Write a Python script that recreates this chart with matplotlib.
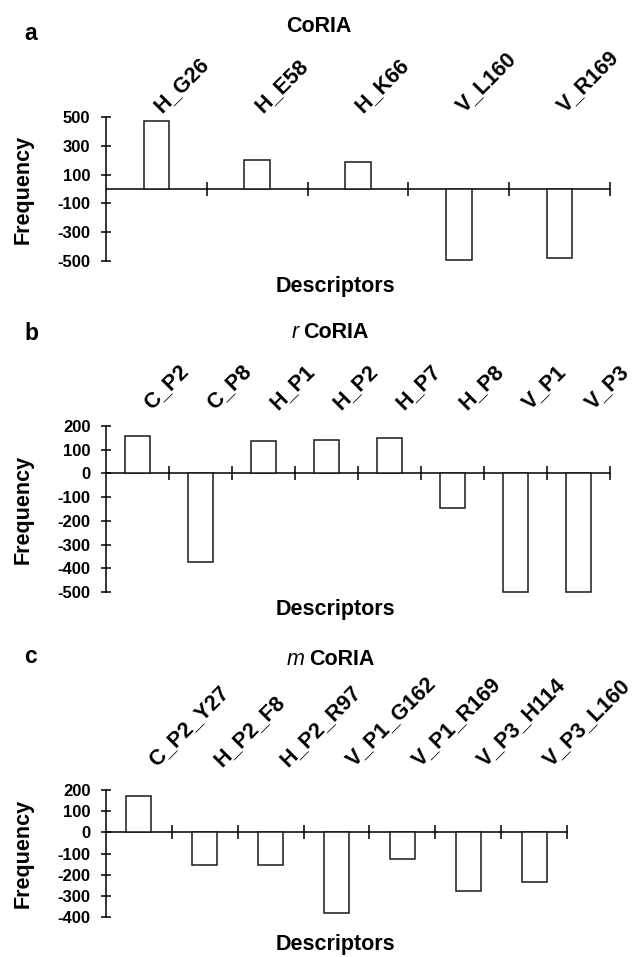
import matplotlib
matplotlib.use("Agg")
import matplotlib.pyplot as plt
from matplotlib import transforms

plt.rcParams['font.family'] = ['Liberation Sans', 'DejaVu Sans']
plt.rcParams['axes.unicode_minus'] = False

# ---- data ----
a_labels = ['H_G26', 'H_E58', 'H_K66', 'V_L160', 'V_R169']
a_vals = [475, 200, 190, -490, -480]
a_ticks = [-500, -300, -100, 100, 300, 500]

b_labels = ['C_P2', 'C_P8', 'H_P1', 'H_P2', 'H_P7', 'H_P8', 'V_P1', 'V_P3']
b_vals = [157, -375, 135, 140, 151, -145, -500, -500]
b_ticks = [-500, -400, -300, -200, -100, 0, 100, 200]

c_labels = ['C_P2_Y27', 'H_P2_F8', 'H_P2_R97', 'V_P1_G162', 'V_P1_R169', 'V_P3_H114', 'V_P3_L160']
c_vals = [172, -152, -152, -382, -125, -276, -237]
c_ticks = [-400, -300, -200, -100, 0, 100, 200]

W, H = 635, 957
fig = plt.figure(figsize=(W / 100, H / 100), dpi=100)


def fy(px):
    return 1 - px / H


def fx(px):
    return px / W


def panel(left, right, top, bottom, labels, vals, ticks, barw, lab_dx, lab_y):
    ax = fig.add_axes([fx(left), fy(bottom), fx(right - left), (bottom - top) / H])
    n = len(labels)
    x = list(range(n))
    ax.bar(x, vals, width=barw, color='white', edgecolor='#1a1a1a', linewidth=1.1,
           zorder=3, clip_on=False)
    ax.set_xlim(-0.5, n - 0.5)
    ax.set_ylim(min(ticks), max(ticks))
    ax.set_yticks(ticks)
    ax.set_yticklabels([str(t) for t in ticks], fontsize=12, fontweight='bold')
    ax.set_xticks([k + 0.5 for k in range(n)])
    ax.set_xticklabels([])
    for s in ['top', 'right']:
        ax.spines[s].set_visible(False)
    ax.spines['bottom'].set_position(('data', 0))
    ax.spines['bottom'].set_linewidth(1.1)
    ax.spines['left'].set_linewidth(1.1)
    ax.tick_params(axis='y', direction='inout', length=6.5, width=1.1, pad=8)
    ax.tick_params(axis='x', direction='inout', length=9.5, width=1.1)
    ax.patch.set_visible(False)
    tr = transforms.blended_transform_factory(ax.transData, fig.transFigure) + \
        transforms.ScaledTranslation(lab_dx / 100, 0, fig.dpi_scale_trans)
    for i, lab in enumerate(labels):
        ax.text(i, fy(lab_y), lab, transform=tr, rotation=45, rotation_mode='anchor',
                ha='left', va='baseline', fontsize=15.5, fontweight='bold')
    fig.text(fx(23), fy((top + bottom) / 2), 'Frequency', rotation=90,
             ha='center', va='center', fontsize=15.5, fontweight='bold')
    return ax


panel(106, 610, 117, 261, a_labels, a_vals, a_ticks, 0.255, 5, 113)
panel(106, 610, 426, 592, b_labels, b_vals, b_ticks, 0.387, 14, 410)
panel(106, 567, 790, 917, c_labels, c_vals, c_ticks, 0.38, 17, 767)

# x-axis titles
for yb in [292, 615, 950]:
    fig.text(fx(335), fy(yb), 'Descriptors', ha='center', va='baseline',
             fontsize=15.5, fontweight='bold')

# panel letters
fig.text(fx(24), fy(40), 'a', ha='left', va='baseline', fontsize=16.5, fontweight='bold')
fig.text(fx(24), fy(340), 'b', ha='left', va='baseline', fontsize=16.5, fontweight='bold')
fig.text(fx(24), fy(663), 'c', ha='left', va='baseline', fontsize=16.5, fontweight='bold')

# titles
fig.text(fx(319), fy(32), 'CoRIA', ha='center', va='baseline', fontsize=15.5, fontweight='bold')
fig.text(fx(303), fy(338), 'CoRIA', ha='left', va='baseline', fontsize=15.5, fontweight='bold')
fig.text(fx(299), fy(338), 'r', ha='right', va='baseline', fontsize=15.5, style='italic')
fig.text(fx(309), fy(665), 'CoRIA', ha='left', va='baseline', fontsize=15.5, fontweight='bold')
fig.text(fx(305), fy(665), 'm', ha='right', va='baseline', fontsize=15.5, style='italic')

fig.savefig('out.png', dpi=100)
